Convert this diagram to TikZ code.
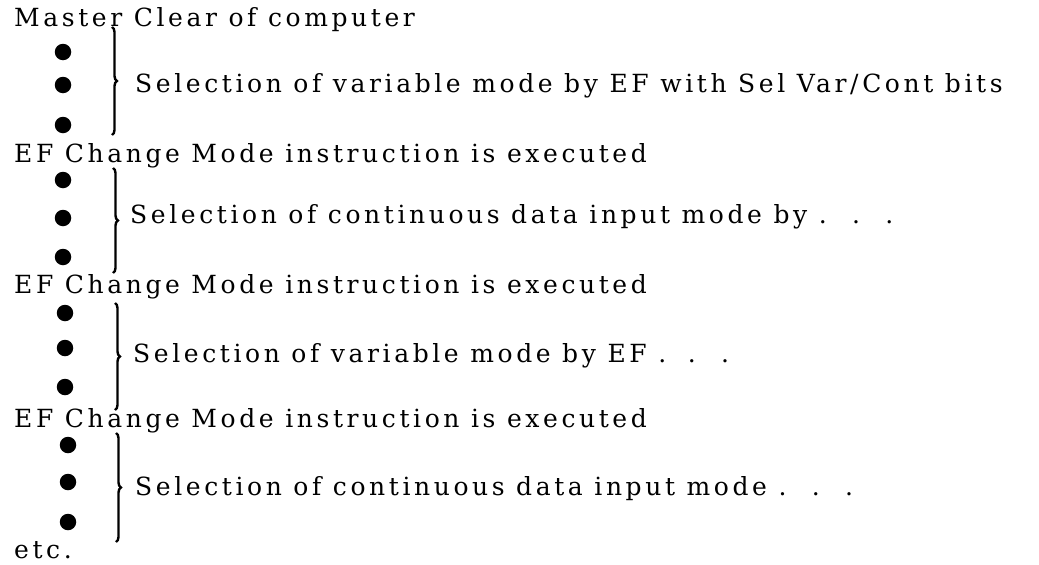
\documentclass[tikz,border=0pt]{standalone}
\usepackage{fontspec}
\setmainfont{DejaVu Serif}[LetterSpace=14.4]
\usetikzlibrary{decorations.pathreplacing}
\newcommand{\spdots}{.\hspace{10pt} .\hspace{10pt} .}
\begin{document}
\begin{tikzpicture}[x=1pt,y=-1pt,
  txt/.style={anchor=base west,inner sep=0pt,font=\fontsize{25}{30}\selectfont},
  blob/.style={circle,fill=black,minimum size=16.5pt,inner sep=0pt},
  bracepath/.style={decorate,decoration={brace,amplitude=5pt},line width=2.4pt}]
\useasboundingbox (0,0) rectangle (1039,565);
% main lines
\node[txt] (l1) at (14,26) {Master Clear of computer};
\node[txt] (l2) at (14,162) {EF Change Mode instruction is executed};
\node[txt] (l3) at (14,293) {EF Change Mode instruction is executed};
\node[txt] (l4) at (14,427) {EF Change Mode instruction is executed};
\node[txt] (l5) at (14,558) {etc.};
% dots
\node[blob] (d11) at (63,52) {};
\node[blob] (d12) at (63,85) {};
\node[blob] (d13) at (63,125) {};
\node[blob] (d21) at (63,180) {};
\node[blob] (d22) at (63,218) {};
\node[blob] (d23) at (63,257) {};
\node[blob] (d31) at (65,313) {};
\node[blob] (d32) at (65,348) {};
\node[blob] (d33) at (65,387) {};
\node[blob] (d41) at (68,445) {};
\node[blob] (d42) at (68,482) {};
\node[blob] (d43) at (68,522) {};
% braces
\coordinate (b1t) at (112,27);  \coordinate (b1b) at (112,135);
\coordinate (b2t) at (113,168); \coordinate (b2b) at (113,273);
\coordinate (b3t) at (115,303); \coordinate (b3b) at (115,410);
\coordinate (b4t) at (116,433); \coordinate (b4b) at (116,542);
\draw[bracepath] (b1t) -- (b1b);
\draw[bracepath] (b2t) -- (b2b);
\draw[bracepath] (b3t) -- (b3b);
\draw[bracepath] (b4t) -- (b4b);
% selection texts
\node[txt] (s1) at (135,92) {Selection of variable mode by EF with Sel Var/Cont bits};
\node[txt] (s2) at (130,223) {Selection of continuous data input mode by \spdots};
\node[txt] (s3) at (133,362) {Selection of variable mode by EF \spdots};
\node[txt] (s4) at (135,495) {Selection of continuous data input mode \spdots};
\end{tikzpicture}
\end{document}
